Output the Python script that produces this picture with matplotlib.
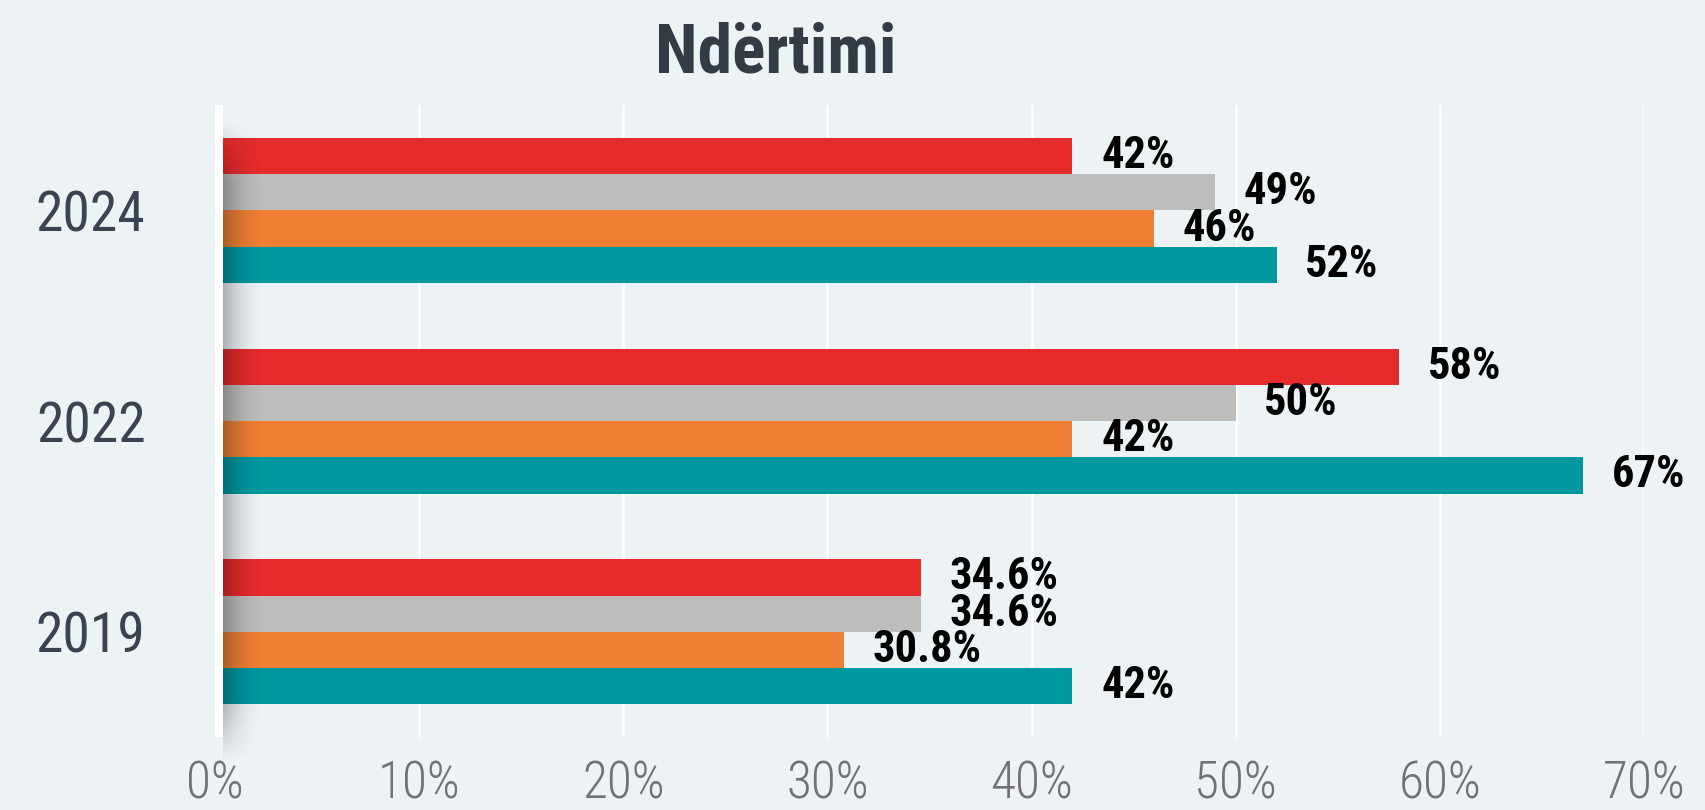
import matplotlib
matplotlib.use("Agg")
import matplotlib.pyplot as plt
import numpy as np

# data (percent)
YEARS = ["2019", "2022", "2024"]
SERIES = ["red", "grey", "orange", "teal"]
VALUES = {
    "red":    [34.6, 58, 42],
    "grey":   [34.6, 50, 49],
    "orange": [30.8, 42, 46],
    "teal":   [42, 67, 52],
}
LABELS = {
    "red":    ["34.6%", "58%", "42%"],
    "grey":   ["34.6%", "50%", "49%"],
    "orange": ["30.8%", "42%", "46%"],
    "teal":   ["42%", "67%", "52%"],
}
XTICKS = [0, 10, 20, 30, 40, 50, 60, 70]

COLORS = {
    "red": "#e52b2c",
    "grey": "#bdbdbb",
    "orange": "#ee7f34",
    "teal": "#00979f",
}
NARROW = ["Liberation Sans Narrow", "Roboto Condensed", "DejaVu Sans Condensed",
          "Liberation Sans", "DejaVu Sans"]
BG = "#edf2f4"

fig = plt.figure(figsize=(17.06, 8.10), dpi=100, facecolor=BG)
ax = fig.add_axes([0.126, 0.090, 0.8377, 0.7802])
ax.set_facecolor("none")

h = 0.172
offsets = [1.5 * h, 0.5 * h, -0.5 * h, -1.5 * h]
y = np.arange(len(YEARS))

for s, off in zip(SERIES, offsets):
    bars = ax.barh(y + off, VALUES[s], height=h, color=COLORS[s], zorder=3)
    for bar, lab in zip(bars, LABELS[s]):
        ax.text(bar.get_width() + 1.4, bar.get_y() + bar.get_height() / 2, lab,
                ha="left", va="center", fontsize=32, fontweight="bold",
                family=NARROW, color="black", zorder=5)

# soft shadow cast by the white zero line
ys_top, ys_bot = 2.43, -0.63
nx, ny = 60, 200
gx = np.linspace(1, 0, nx) ** 2
gy = np.ones(ny)
fade = 20
gy[:fade] = np.linspace(0, 1, fade)
gy[-fade:] = np.linspace(1, 0, fade)
shade = np.zeros((ny, nx, 4))
shade[..., 3] = 0.28 * np.outer(gy, gx)
ax.imshow(shade, extent=[0.39, 2.5, ys_bot, ys_top], aspect="auto",
          interpolation="bilinear", zorder=4, clip_on=False)

for t in XTICKS[1:]:
    ax.axvline(t, color="white", lw=1.9, zorder=1)
ax.axvline(0, color="white", lw=10.8, zorder=6)

ax.set_xlim(0, 70)
ax.set_ylim(-0.5, 2.5)
ax.set_xticks(XTICKS)
ax.set_xticklabels([f"{t}%" for t in XTICKS], family=NARROW, fontsize=37,
                   fontweight="light", color="#727272")
ax.set_yticks(y)
ax.set_yticklabels(YEARS, fontsize=40, color="#3c4350", family=NARROW)
ax.tick_params(axis="x", length=0, pad=16)
ax.tick_params(axis="y", length=0, pad=50)
for sp in ax.spines.values():
    sp.set_visible(False)

fig.text(0.455, 0.9099, "Ndërtimi", ha="center", va="baseline", fontsize=50,
         fontweight="bold", family=NARROW, color="#353b45")

fig.savefig("out.png", dpi=100, facecolor=BG)
